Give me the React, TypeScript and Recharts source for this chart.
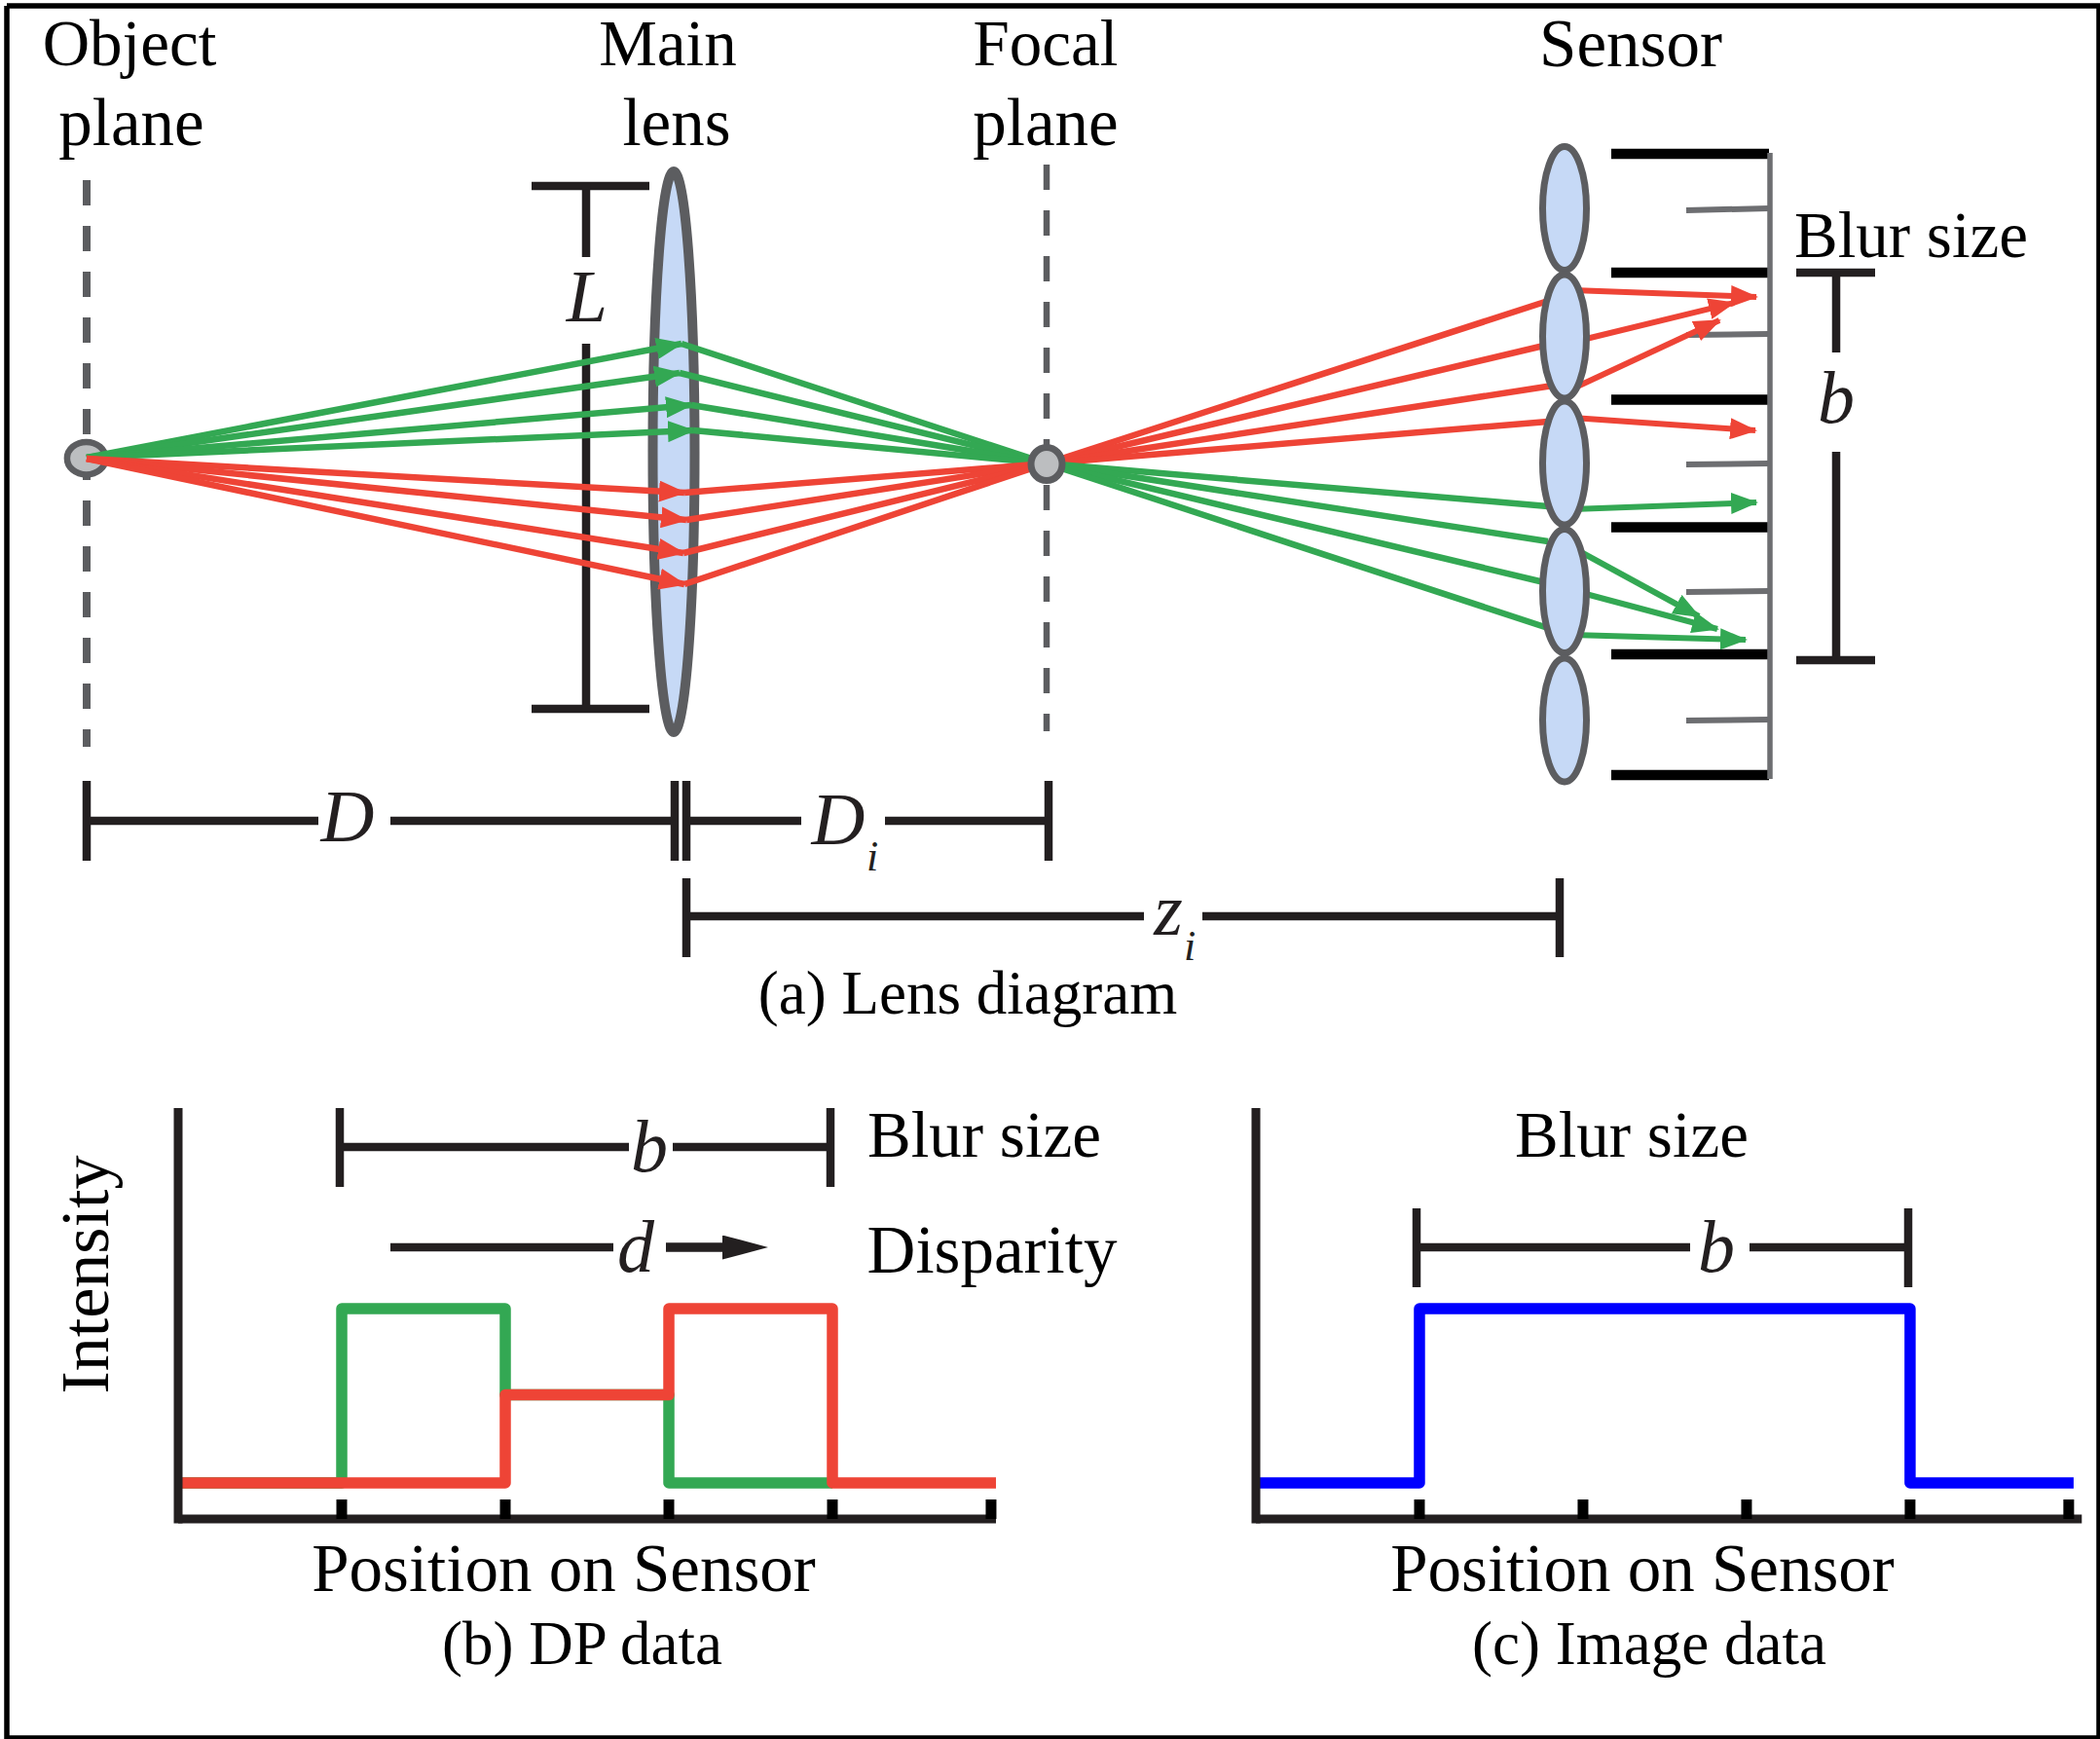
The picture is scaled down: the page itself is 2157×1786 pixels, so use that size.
import React from 'react';
import { ComposedChart, LineChart, Line, Scatter, XAxis, YAxis } from 'recharts';

const WIDTH = 2157;
const HEIGHT = 1786;

const INK = '#231f20';
const GRAY = '#5c5d60';
const GREEN = '#33a853';
const RED = '#ee4436';
const BLUE = '#0000ff';
const LENS_FILL = '#c6d9f6';
const DOT_FILL = '#bcbec0';
const SERIF = '"Liberation Serif", serif';

type P = [number, number];

// diagram geometry (units = reference pixels)
const FRAME: P[] = [[7, 6], [2156, 6], [2156, 1785], [7, 1785], [7, 6]];
const DASHED_PLANES: P[][] = [
  [[89, 185], [89, 767]],
  [[1075, 169], [1075, 751]],
];

const OBJECT_GREEN: P = [89, 470];
const OBJECT_RED: P = [89, 471];
const FOCAL_POINT: P = [1075, 476];

// arrow tips on the main lens
const LENS_GREEN: P[] = [[700, 353], [698, 383], [710, 416], [712, 442]];
const LENS_RED: P[] = [[703, 506], [705, 534], [702, 568], [703, 600]];

// [ray into the microlens, start behind it, arrow tip]
const SENSOR_RED: P[][] = [
  [[1590, 309], [1615, 298], [1804, 305]],
  [[1590, 354], [1625, 349], [1781, 311]],
  [[1595, 396], [1620, 397], [1766, 329]],
  [[1590, 433], [1615, 429], [1803, 442]],
];
const SENSOR_GREEN: P[][] = [
  [[1590, 520], [1615, 523], [1804, 516]],
  [[1590, 556], [1622, 566], [1745, 633]],
  [[1590, 599], [1625, 609], [1764, 646]],
  [[1590, 645], [1615, 652], [1793, 657]],
];

const MAIN_LENS: P[] = [[692, 464]];
const MICRO_LENSES: P[] = [[1607, 214], [1607, 345.5], [1607, 475.5], [1607, 607], [1607, 739.5]];
const OBJECT_DOT: P[] = [[88.7, 470.7]];
const FOCAL_DOT: P[] = [[1075, 476.5]];

const SENSOR_WALLS: P[][] = [158, 280, 410.5, 541.5, 672, 796].map((y): P[] => [[1655, y], [1817, y]]);
const SENSOR_TICKS: P[][] = [[216, 214], [344, 343], [477, 476], [608, 607], [740, 739]].map(([a, b]): P[] => [[1732, a], [1817, b]]);
const SENSOR_BACK: P[] = [[1818, 157], [1818, 800]];

const BRACKETS: P[][] = [
  // L
  [[546, 191], [667, 191]],
  [[546, 728], [667, 728]],
  [[602, 191], [602, 264]],
  [[602, 353], [602, 728]],
  // right hand blur size
  [[1845, 280], [1926, 280]],
  [[1845, 678], [1926, 678]],
  [[1886, 280], [1886, 362]],
  [[1886, 464], [1886, 678]],
  // D
  [[89, 802], [89, 884]],
  [[89, 843], [327, 843]],
  [[401, 843], [692, 843]],
  [[693, 802], [693, 884]],
  // Di
  [[705, 802], [705, 884]],
  [[705, 843], [823, 843]],
  [[909, 843], [1077, 843]],
  [[1077, 802], [1077, 884]],
  // zi
  [[705, 902], [705, 983]],
  [[705, 941], [1175, 941]],
  [[1235, 941], [1602, 941]],
  [[1602, 902], [1602, 983]],
  // panel b, b
  [[349, 1138], [349, 1219]],
  [[349, 1178], [646, 1178]],
  [[691, 1178], [853, 1178]],
  [[853, 1138], [853, 1219]],
  // panel b, d
  [[401, 1281], [630, 1281]],
  // panel c, b
  [[1455, 1241], [1455, 1322]],
  [[1455, 1281], [1736, 1281]],
  [[1797, 1281], [1960, 1281]],
  [[1960, 1241], [1960, 1322]],
];
const DISPARITY_ARROW: P[] = [[684, 1281], [747, 1281]];

// text
const LABELS: [string, number, number][] = [
  ['Object', 133, 67],
  ['Main', 686, 67],
  ['Focal', 1074, 67],
  ['Blur size', 1963, 264],
  ['Blur size', 1011, 1188],
  ['Blur size', 1676, 1188],
];
const WIDE_LABELS: [string, number, number][] = [
  ['plane', 135, 149],
  ['lens', 695, 149],
  ['plane', 1074, 149],
  ['Sensor', 1675, 68],
  ['Disparity', 1019, 1307],
  ['Position on Sensor', 579, 1634],
  ['Position on Sensor', 1687, 1634],
];
const CAPTIONS: [string, number, number][] = [
  ['(a) Lens diagram', 994, 1041],
  ['(b) DP data', 598, 1709],
  ['(c) Image data', 1694, 1709],
];
const SYMBOLS: [string, number, number][] = [
  ['L', 603, 330],
  ['b', 1886, 434],
  ['D', 357, 864],
  ['D', 861, 867],
  ['z', 1200, 960],
  ['b', 667, 1203],
  ['d', 653, 1306],
  ['b', 1763, 1306],
];
const SUBSCRIPTS: [string, number, number][] = [
  ['i', 896, 894],
  ['i', 1222, 986],
];
const Y_TITLE: [string, number, number][] = [['Intensity', 111, 1309]];

// panels: position on sensor, intensity in arbitrary units
const LOW = 0.103;
const MID = 0.354;
const HIGH = 0.6;
const GREEN_POSITION = [0, 1, 2, 3, 4];
const GREEN_INTENSITY = [LOW, HIGH, MID, LOW, LOW];
const RED_POSITION = [0, 2, 3, 4, 5];
const RED_INTENSITY = [LOW, MID, HIGH, LOW, LOW];
const BLUE_POSITION = [0, 1, 4, 5];
const BLUE_INTENSITY = [LOW, HIGH, LOW, LOW];
const DP_TICKS = [1, 2, 3, 4, 4.97];
const IMAGE_TICKS = [1, 2, 3, 4, 4.97];

const xy = (pts: P[]) => pts.map(([x, y]) => ({ x, y }));
const series = (xs: number[], ys: number[]) => xs.map((position, i) => ({ position, intensity: ys[i] }));
const notes = (rows: [string, number, number][]) => rows.map(([label, x, y]) => ({ label, x, y }));

const seg = (key: string, pts: P[], color: string, width: number, extra: any = {}) => (
  <Line
    key={key}
    data={xy(pts)}
    dataKey="y"
    stroke={color}
    strokeWidth={width}
    dot={false}
    activeDot={false}
    legendType="none"
    isAnimationActive={false}
    {...extra}
  />
);

const ellipse = (rx: number, ry: number, fill: string, sw: number) => (props: any) => (
  <ellipse cx={props.cx} cy={props.cy} rx={rx} ry={ry} fill={fill} stroke={GRAY} strokeWidth={sw} />
);

const textShape = (size: number, style: any = {}) => (props: any) => (
  <text x={props.cx} y={props.cy} fontSize={size} fontFamily={SERIF} textAnchor="middle" fill="#000" {...style}>
    {props.payload.label}
  </text>
);

const arrowMarker = (id: string, color: string, len: number, wide: number, refX: number) => (
  <marker id={id} markerUnits="userSpaceOnUse" markerWidth={len} markerHeight={wide} refX={refX} refY={wide / 2} orient="auto">
    <path d={`M0,0 L${len},${wide / 2} L0,${wide} Z`} fill={color} />
  </marker>
);

const Panel = ({ left, right, domain, ticks, children }: any) => (
  <div style={{ position: 'absolute', left: 0, top: 0 }}>
    <LineChart width={WIDTH} height={HEIGHT} margin={{ left, right, top: 1142.5, bottom: 226 }}>
      <XAxis
        type="number"
        dataKey="position"
        domain={domain}
        ticks={ticks}
        interval={0}
        mirror
        tickFormatter={() => ''}
        tickSize={20}
        tickLine={{ stroke: '#000', strokeWidth: 11 }}
        axisLine={{ stroke: INK, strokeWidth: 9 }}
      />
      <YAxis
        type="number"
        dataKey="intensity"
        domain={[0, 1.16]}
        mirror
        tick={false}
        tickLine={false}
        axisLine={{ stroke: INK, strokeWidth: 9, strokeLinecap: 'square' }}
      />
      {children}
    </LineChart>
  </div>
);

const step = (key: string, data: any[], color: string) => (
  <Line
    key={key}
    data={data}
    dataKey="intensity"
    type="stepAfter"
    stroke={color}
    strokeWidth={11.5}
    strokeLinejoin="round"
    dot={false}
    activeDot={false}
    isAnimationActive={false}
  />
);

export default function App() {
  const rays: React.ReactNode[] = [];
  LENS_GREEN.forEach((tip, i) => {
    rays.push(seg(`gin${i}`, [OBJECT_GREEN, tip], GREEN, 6.5, { markerEnd: 'url(#headGreen)' }));
    rays.push(seg(`gout${i}`, [tip, FOCAL_POINT], GREEN, 6.5));
  });
  LENS_RED.forEach((tip, i) => {
    rays.push(seg(`rin${i}`, [OBJECT_RED, tip], RED, 6.5, { markerEnd: 'url(#headRed)' }));
    rays.push(seg(`rout${i}`, [tip, FOCAL_POINT], RED, 6.5));
  });
  SENSOR_RED.forEach(([inner, start, tip], i) => {
    rays.push(seg(`sri${i}`, [FOCAL_POINT, inner], RED, 6.5));
    rays.push(seg(`sro${i}`, [start, tip], RED, 6, { markerEnd: 'url(#headRed)' }));
  });
  SENSOR_GREEN.forEach(([inner, start, tip], i) => {
    rays.push(seg(`sgi${i}`, [FOCAL_POINT, inner], GREEN, 6.5));
    rays.push(seg(`sgo${i}`, [start, tip], GREEN, 6, { markerEnd: 'url(#headGreen)' }));
  });

  return (
    <div style={{ position: 'absolute', left: 0, top: 0, width: WIDTH, height: HEIGHT, background: '#fff', overflow: 'hidden' }}>
      <div style={{ position: 'absolute', left: 0, top: 0 }}>
        <ComposedChart width={WIDTH} height={HEIGHT} margin={{ left: 0, right: 0, top: 0, bottom: 0 }}>
          <defs>
            {arrowMarker('headGreen', GREEN, 28, 22, 26)}
            {arrowMarker('headRed', RED, 28, 22, 26)}
            {arrowMarker('headInk', INK, 47, 25, 5)}
          </defs>
          <XAxis type="number" dataKey="x" domain={[0, WIDTH]} hide />
          <YAxis type="number" dataKey="y" domain={[0, HEIGHT]} reversed hide />

          {seg('frame', FRAME, '#000', 5.5)}
          <Scatter data={xy(MAIN_LENS)} shape={ellipse(21.5, 288, LENS_FILL, 10)} isAnimationActive={false} zIndex={300} />
          <Scatter data={xy(OBJECT_DOT)} shape={ellipse(19.8, 16.8, DOT_FILL, 6.5)} isAnimationActive={false} zIndex={300} />
          {BRACKETS.map((b, i) => seg(`bracket${i}`, b, INK, 8.5))}
          {seg('disparity', DISPARITY_ARROW, INK, 9.5, { markerEnd: 'url(#headInk)' })}
          {DASHED_PLANES.map((p, i) => seg(`plane${i}`, p, GRAY, i === 0 ? 8 : 6.5, { strokeDasharray: '26 21', zIndex: 250 }))}
          {SENSOR_WALLS.map((w, i) => seg(`wall${i}`, w, '#000', 10.5))}
          {SENSOR_TICKS.map((t, i) => seg(`tick${i}`, t, '#6d6e71', 6))}
          {seg('back', SENSOR_BACK, '#6d6e71', 5.5)}
          {rays}
          <Scatter data={xy(MICRO_LENSES)} shape={ellipse(22.5, 63.5, LENS_FILL, 7)} isAnimationActive={false} />
          <Scatter data={xy(FOCAL_DOT)} shape={ellipse(16, 17, DOT_FILL, 7)} isAnimationActive={false} />
          <Scatter data={notes(LABELS)} shape={textShape(67)} isAnimationActive={false} />
          <Scatter data={notes(WIDE_LABELS)} shape={textShape(69)} isAnimationActive={false} />
          <Scatter data={notes(CAPTIONS)} shape={textShape(63)} isAnimationActive={false} />
          <Scatter data={notes(SYMBOLS)} shape={textShape(76, { fontStyle: 'italic', fill: INK })} isAnimationActive={false} />
          <Scatter data={notes(SUBSCRIPTS)} shape={textShape(44, { fontStyle: 'italic', fill: INK })} isAnimationActive={false} />
          <Scatter
            data={notes(Y_TITLE)}
            shape={(props: any) => (
              <text
                transform={`translate(${props.cx},${props.cy}) rotate(-90)`}
                fontSize={70}
                fontFamily={SERIF}
                textAnchor="middle"
                fill="#000"
              >
                {props.payload.label}
              </text>
            )}
            isAnimationActive={false}
          />
        </ComposedChart>
      </div>

      <Panel left={183} right={1134} domain={[0, 5]} ticks={DP_TICKS}>
        {step('green', series(GREEN_POSITION, GREEN_INTENSITY), GREEN)}
        {step('red', series(RED_POSITION, RED_INTENSITY), RED)}
      </Panel>

      <Panel left={1290} right={18.7} domain={[0, 5.05]} ticks={IMAGE_TICKS}>
        {step('blue', series(BLUE_POSITION, BLUE_INTENSITY), BLUE)}
      </Panel>
    </div>
  );
}
